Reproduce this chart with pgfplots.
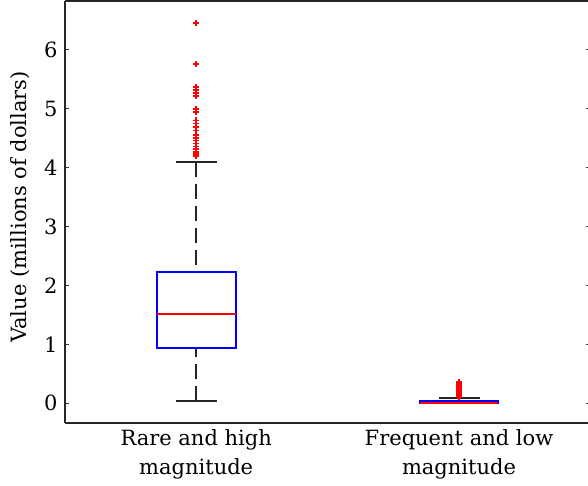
\documentclass[border=0pt]{standalone}
\usepackage{fontspec}
\setmainfont{DejaVu Serif}
\usepackage{pgfplots}
\pgfplotsset{compat=1.18}
\usepgfplotslibrary{statistics}
\begin{document}
\fontsize{21}{28.3}\selectfont
\begin{tikzpicture}
\path[use as bounding box] (-64.8pt,-63.3pt) rectangle (523.2pt,422.7pt);
\begin{axis}[
  scale only axis,
  width=525.6pt, height=421.2pt,
  at={(0,0)}, anchor=south west,
  separate axis lines,
  every outer x axis line/.append style={line width=2pt, black!85},
  every outer y axis line/.append style={line width=2pt, black!85},
  xmin=0.5, xmax=2.5,
  ymin=-0.33, ymax=6.82,
  xtick={1,2},
  xticklabels={{Rare and high\\magnitude},{Frequent and low\\magnitude}},
  xticklabel style={align=center, font=\fontsize{21}{28.3}\selectfont},
  xtick style={draw=none},
  ytick={0,1,2,3,4,5,6},
  yticklabel style={font=\fontsize{21}{25}\selectfont, xshift=0pt},
  /pgf/number format/assume math mode=true,
  tick align=inside,
  major tick length=4pt,
  ytick style={line width=1.2pt, black!80},
  ylabel={Value (millions of dollars)},
  ylabel style={at={(axis description cs:-0.0852,0.512)}, anchor=center, font=\fontsize{21}{25}\selectfont},
  boxplot/draw direction=y,
  boxplot/box extend=0.3,
  boxplot/whisker extend=0.156,
  boxplot/every box/.style={draw=blue, line width=2pt},
  boxplot/every median/.style={draw=red, line width=2pt},
  boxplot/draw/lower whisker/.code={
    \draw[black!85, line width=2pt, dash pattern=on 15pt off 7pt]
      (boxplot box cs:\pgfplotsboxplotvalue{lower whisker},0.5) --
      (boxplot box cs:\pgfplotsboxplotvalue{lower quartile},0.5);
    \draw[black!85, line width=2pt]
      (boxplot whisker cs:\pgfplotsboxplotvalue{lower whisker},0) --
      (boxplot whisker cs:\pgfplotsboxplotvalue{lower whisker},1);
  },
  boxplot/draw/upper whisker/.code={
    \draw[black!85, line width=2pt, dash pattern=on 15pt off 7pt]
      (boxplot box cs:\pgfplotsboxplotvalue{upper whisker},0.5) --
      (boxplot box cs:\pgfplotsboxplotvalue{upper quartile},0.5);
    \draw[black!85, line width=2pt]
      (boxplot whisker cs:\pgfplotsboxplotvalue{upper whisker},0) --
      (boxplot whisker cs:\pgfplotsboxplotvalue{upper whisker},1);
  },
]
\addplot[boxplot prepared={
    lower whisker=0.03, lower quartile=0.93, median=1.51,
    upper quartile=2.22, upper whisker=4.10, draw position=1},
  mark=+, mark size=3pt, mark options={red, line width=1.8pt}]
  table[row sep=\\, y index=0] {
  v\\ 6.46\\ 5.76\\ 5.37\\ 5.32\\ 5.27\\ 5.21\\ 5.00\\ 4.95\\ 4.80\\ 4.75\\
  4.69\\ 4.63\\ 4.55\\ 4.50\\ 4.46\\ 4.41\\ 4.36\\ 4.32\\ 4.27\\ 4.24\\ 4.21\\ 4.19\\
  };
\addplot[boxplot prepared={
    lower whisker=0.0, lower quartile=0.0, median=0.0,
    upper quartile=0.036, upper whisker=0.09, draw position=2},
  mark=+, mark size=3pt, mark options={red, line width=1.8pt}]
  table[row sep=\\, y index=0] {
  v\\ 0.10\\ 0.11\\ 0.12\\ 0.13\\ 0.14\\ 0.15\\ 0.16\\ 0.17\\ 0.18\\ 0.19\\ 0.20\\
  0.21\\ 0.22\\ 0.23\\ 0.24\\ 0.25\\ 0.26\\ 0.27\\ 0.28\\ 0.29\\ 0.30\\ 0.31\\ 0.32\\
  0.33\\ 0.34\\ 0.35\\ 0.36\\
  };
\end{axis}
\end{tikzpicture}
\end{document}
